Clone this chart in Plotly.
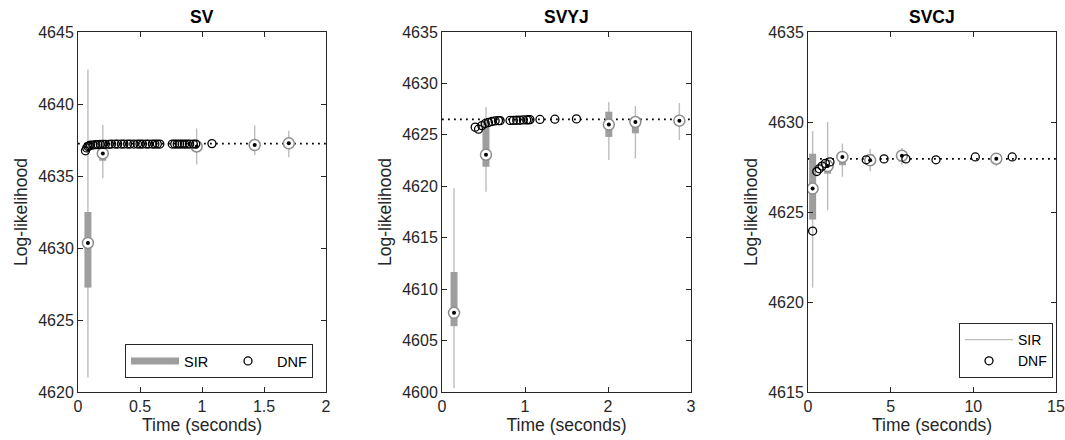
import plotly.graph_objects as go

# ---------------- data ----------------
panel_titles = ["SV", "SVYJ", "SVCJ"]

# SV
sv_sir_t = [0.08, 0.20, 0.957, 1.425, 1.70]
sv_sir_med = [4630.35, 4636.57, 4637.05, 4637.15, 4637.27]
sv_sir_q1 = [4627.25, 4636.06, 4636.80, 4636.95, 4636.95]
sv_sir_q3 = [4632.50, 4637.20, 4637.40, 4637.40, 4637.60]
sv_sir_lo = [4621.0, 4634.84, 4635.80, 4636.45, 4636.30]
sv_sir_hi = [4642.4, 4638.54, 4638.30, 4638.50, 4638.15]
sv_dnf_t = [0.06, 0.07, 0.08, 0.09, 0.10, 0.12, 0.14, 0.16, 0.18, 0.20,
            0.22, 0.25, 0.27, 0.30, 0.32, 0.35, 0.37, 0.40, 0.42, 0.45,
            0.48, 0.50, 0.52, 0.55, 0.57, 0.60, 0.62, 0.64, 0.66, 0.76,
            0.78, 0.80, 0.82, 0.84, 0.86, 0.88, 0.90, 0.93, 0.95, 1.08]
sv_dnf_ll = [4636.75, 4636.95, 4637.05, 4637.10, 4637.15, 4637.15, 4637.18, 4637.18, 4637.20, 4637.20,
             4637.20, 4637.20, 4637.22, 4637.22, 4637.22, 4637.22, 4637.22, 4637.22, 4637.22, 4637.22,
             4637.22, 4637.22, 4637.22, 4637.22, 4637.22, 4637.22, 4637.22, 4637.22, 4637.22, 4637.22,
             4637.22, 4637.22, 4637.22, 4637.22, 4637.22, 4637.22, 4637.22, 4637.22, 4637.22, 4637.25]
sv_ref = 4637.25

# SVYJ
svyj_sir_t = [0.145, 0.53, 2.01, 2.33, 2.86]
svyj_sir_med = [4607.7, 4623.07, 4626.0, 4626.25, 4626.38]
svyj_sir_q1 = [4606.4, 4621.9, 4624.8, 4625.15, 4626.0]
svyj_sir_q3 = [4611.67, 4626.4, 4627.25, 4626.6, 4626.7]
svyj_sir_lo = [4600.36, 4619.47, 4622.56, 4622.7, 4624.5]
svyj_sir_hi = [4619.8, 4627.68, 4628.2, 4627.8, 4628.1]
svyj_dnf_t = [0.40, 0.44, 0.48, 0.52, 0.56, 0.60, 0.64, 0.68, 0.70, 0.82,
              0.86, 0.90, 0.94, 0.98, 1.02, 1.04, 1.06, 1.18, 1.36, 1.62]
svyj_dnf_ll = [4625.75, 4625.55, 4625.90, 4626.10, 4626.20, 4626.30, 4626.35, 4626.38, 4626.38, 4626.40,
               4626.40, 4626.42, 4626.42, 4626.45, 4626.45, 4626.45, 4626.48, 4626.50, 4626.52, 4626.55]
svyj_ref = 4626.5

# SVCJ
svcj_sir_t = [0.28, 1.19, 2.08, 3.76, 5.68, 11.39]
svcj_sir_med = [4626.3, 4627.55, 4628.06, 4627.87, 4628.13, 4627.96]
svcj_sir_q1 = [4624.58, 4627.13, 4627.6, 4627.6, 4627.8, 4627.75]
svcj_sir_q3 = [4628.24, 4627.9, 4628.3, 4628.2, 4628.3, 4628.15]
svcj_sir_lo = [4620.8, 4625.1, 4626.95, 4627.26, 4627.63, 4627.54]
svcj_sir_hi = [4629.5, 4630.0, 4628.8, 4628.5, 4628.55, 4628.28]
svcj_dnf_t = [0.28, 0.53, 0.68, 0.85, 1.05, 1.33, 3.52, 4.60, 5.92, 7.74, 10.12, 12.35]
svcj_dnf_ll = [4623.94, 4627.25, 4627.40, 4627.55, 4627.70, 4627.78, 4627.90, 4627.95, 4627.95, 4627.90, 4628.06, 4628.06]
svcj_ref = 4627.95

x_ranges = [[0, 2], [0, 3], [0, 15]]
y_ranges = [[4620, 4645], [4600, 4635], [4615, 4635]]
x_ticks = [[0, 0.5, 1, 1.5, 2], [0, 1, 2, 3], [0, 5, 10, 15]]
y_ticks = [[4620, 4625, 4630, 4635, 4640, 4645],
           [4600, 4605, 4610, 4615, 4620, 4625, 4630, 4635],
           [4615, 4620, 4625, 4630, 4635]]

# ---------------- styling ----------------
W, H = 1065, 440
FONT = "Liberation Sans, Arial, sans-serif"
AX = "#262626"
WHISK = "#bdbdbd"
BOX = "#9e9e9e"
MEDC = "#8c8c8c"
TICK_FS = 16
LAB_FS = 17.5

x_px = [(78, 326), (442, 691), (808, 1056)]
y_px = (32, 392)

panels = [
    (sv_sir_t, sv_sir_med, sv_sir_q1, sv_sir_q3, sv_sir_lo, sv_sir_hi, sv_dnf_t, sv_dnf_ll, sv_ref),
    (svyj_sir_t, svyj_sir_med, svyj_sir_q1, svyj_sir_q3, svyj_sir_lo, svyj_sir_hi, svyj_dnf_t, svyj_dnf_ll, svyj_ref),
    (svcj_sir_t, svcj_sir_med, svcj_sir_q1, svcj_sir_q3, svcj_sir_lo, svcj_sir_hi, svcj_dnf_t, svcj_dnf_ll, svcj_ref),
]

fig = go.Figure()
legend_for = ["legend", None, "legend2"]


def seg(xs, a, b):
    X, Y = [], []
    for x, lo, hi in zip(xs, a, b):
        X += [x, x, None]
        Y += [lo, hi, None]
    return X, Y


for i, (t, med, q1, q3, lo, hi, dt, dl, ref) in enumerate(panels):
    xa = "x" if i == 0 else f"x{i+1}"
    ya = "y" if i == 0 else f"y{i+1}"
    lg = legend_for[i] or "legend"
    # reference dotted line
    fig.add_trace(go.Scatter(x=x_ranges[i], y=[ref, ref], mode="lines",
                             line=dict(color="black", width=1.8, dash="1.8px,4.2px"),
                             xaxis=xa, yaxis=ya, showlegend=False, hoverinfo="skip"))
    # whiskers
    X, Y = seg(t, lo, hi)
    fig.add_trace(go.Scatter(x=X, y=Y, mode="lines", line=dict(color=WHISK, width=1.4),
                             xaxis=xa, yaxis=ya, name="SIR",
                             showlegend=(i == 2), legend=lg, legendrank=1))
    # boxes
    X, Y = seg(t, q1, q3)
    fig.add_trace(go.Scatter(x=X, y=Y, mode="lines", line=dict(color=BOX, width=7),
                             xaxis=xa, yaxis=ya, name="SIR",
                             showlegend=(i == 0), legend="legend", legendrank=1))
    # medians
    fig.add_trace(go.Scatter(x=t, y=med, mode="markers",
                             marker=dict(symbol="circle", size=11, color="white",
                                         line=dict(color=MEDC, width=1.5)),
                             xaxis=xa, yaxis=ya, showlegend=False))
    fig.add_trace(go.Scatter(x=t, y=med, mode="markers",
                             marker=dict(symbol="circle", size=4, color="black"),
                             xaxis=xa, yaxis=ya, showlegend=False))
    # DNF
    fig.add_trace(go.Scatter(x=dt, y=dl, mode="markers", name="DNF",
                             marker=dict(symbol="circle-open", size=8, color="black",
                                         line=dict(color="black", width=1.3)),
                             xaxis=xa, yaxis=ya, showlegend=(i != 1),
                             legend=lg, legendrank=2))

layout = dict(
    width=W, height=H, margin=dict(l=0, r=0, t=0, b=0),
    paper_bgcolor="white", plot_bgcolor="white",
    font=dict(family=FONT, size=TICK_FS, color=AX),
    legend=dict(orientation="h", x=313 / W, xanchor="right", y=1 - 378 / H, yanchor="bottom",
                bgcolor="white", bordercolor=AX, borderwidth=1,
                font=dict(size=14.5, color="black"), itemwidth=48, entrywidth=30,
                traceorder="normal", tracegroupgap=0),
    legend2=dict(orientation="v", x=1053 / W, xanchor="right", y=1 - 378 / H, yanchor="bottom",
                 bgcolor="white", bordercolor=AX, borderwidth=1,
                 font=dict(size=14, color="black"), itemwidth=48,
                 traceorder="normal", tracegroupgap=0),
)

annotations = []
for i in range(3):
    xs = "xaxis" if i == 0 else f"xaxis{i+1}"
    ys = "yaxis" if i == 0 else f"yaxis{i+1}"
    ya = "y" if i == 0 else f"y{i+1}"
    xa = "x" if i == 0 else f"x{i+1}"
    x0, x1 = x_px[i]
    layout[xs] = dict(domain=[x0 / W, x1 / W], range=x_ranges[i], anchor=ya,
                      tickvals=x_ticks[i], ticktext=[f"{v:g}" for v in x_ticks[i]],
                      ticks="inside", ticklen=5, tickcolor=AX, showline=True, linecolor=AX,
                      linewidth=1, mirror="ticks", showgrid=False, zeroline=False,
                      tickfont=dict(size=TICK_FS, color=AX), automargin=False,
                      title=dict(text="Time (seconds)", font=dict(size=LAB_FS, color=AX), standoff=3))
    layout[ys] = dict(domain=[1 - y_px[1] / H, 1 - y_px[0] / H], range=y_ranges[i], anchor=xa,
                      tickvals=y_ticks[i], ticks="inside", ticklen=5, tickcolor=AX,
                      showline=True, linecolor=AX, linewidth=1, mirror="ticks",
                      showgrid=False, zeroline=False, tickfont=dict(size=TICK_FS, color=AX),
                      automargin=False,
                      title=dict(text="Log-likelihood", font=dict(size=LAB_FS, color=AX), standoff=6))
    annotations.append(dict(text=f"<b>{panel_titles[i]}</b>", x=(x0 + x1) / 2 / W,
                            y=1 - 17 / H, xref="paper", yref="paper", showarrow=False,
                            font=dict(size=17.5, color="black", family=FONT),
                            xanchor="center", yanchor="middle"))
layout["annotations"] = annotations
fig.update_layout(**layout)
fig.write_html("out.html")
